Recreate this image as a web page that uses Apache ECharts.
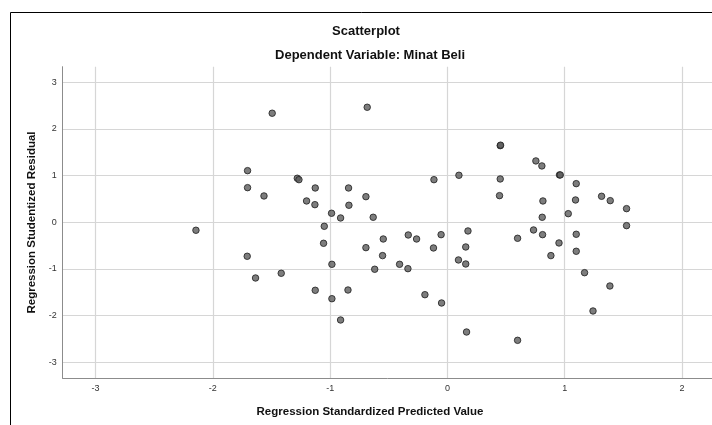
<!DOCTYPE html>
<html>
<head>
<meta charset="utf-8">
<script src="https://cdn.jsdelivr.net/npm/echarts@6/dist/echarts.min.js"></script>
<style>
  html, body { margin: 0; padding: 0; background: #fff; }
  #chart { width: 712px; height: 425px; }
</style>
</head>
<body>
<div id="chart"></div>
<script>
// standardized predicted value (x) and studentized residual (y)
const predicted = [
  -2.144, -1.704, -1.704, -1.564, -1.494, -1.707, -1.636, -1.417, -1.280, -1.266,
  -1.201, -1.130, -1.127, -1.127, -1.056, -1.050, -0.988, -0.985, -0.985, -0.911,
  -0.911, -0.848, -0.843, -0.840, -0.695, -0.695, -0.684, -0.633, -0.620, -0.553,
  -0.547, -0.408, -0.337, -0.334, -0.263, -0.192, -0.119, -0.115, -0.054, -0.050,
  0.098, 0.094, 0.156, 0.156, 0.163, 0.175, 0.444, 0.450, 0.450, 0.453,
  0.598, 0.598, 0.734, 0.754, 0.805, 0.808, 0.811, 0.814, 0.882, 0.951,
  0.955, 0.962, 1.030, 1.092, 1.098, 1.098, 1.098, 1.169, 1.241, 1.314,
  1.385, 1.388, 1.527, 1.527
]
const residual = [
  -0.171, 1.105, 0.741, 0.563, 2.334, -0.728, -1.193, -1.092, 0.942, 0.912,
  0.456, 0.377, 0.734, -1.456, -0.450, -0.086, 0.193, -0.900, -1.636, 0.092,
  -2.092, -1.450, 0.734, 0.364, 0.548, -0.543, 2.462, 0.107, -1.006, -0.714,
  -0.358, -0.900, -0.993, -0.272, -0.358, -1.550, -0.550, 0.912, -0.265, -1.728,
  1.006, -0.807, -0.529, -0.893, -2.349, -0.186, 0.570, 0.927, 1.640, 1.650,
  -0.343, -2.527, -0.165, 1.313, 1.206, 0.107, -0.265, 0.456, -0.714, -0.443,
  1.013, 1.013, 0.184, 0.477, 0.827, -0.257, -0.621, -1.079, -1.899, 0.556,
  -1.364, 0.463, 0.292, -0.072
]
const xTicks = [-3, -2, -1, 0, 1, 2]
const yTicks = [-3, -2, -1, 0, 1, 2, 3]

const points = predicted.map((x, i) => [x, residual[i]])

const chart = echarts.init(document.getElementById('chart'))

const option = {
  backgroundColor: '#fff',
  animation: false,
  textStyle: { fontFamily: 'Liberation Sans, Arial, sans-serif' },
  grid: {
    left: 62.7,
    top: 66.7,
    width: 668.6,
    height: 311.6,
    outerBoundsMode: 'none'
  },
  xAxis: {
    type: 'value',
    min: -3.28,
    max: 2.42,
    axisLine: { show: true, onZero: false, lineStyle: { color: '#8c8c8c', width: 1 } },
    axisTick: { show: false, customValues: xTicks },
    axisLabel: { customValues: xTicks, color: '#333', fontSize: 9, margin: 6 },
    splitLine: { show: true, lineStyle: { color: '#d6d6d6', width: 1.2 } }
  },
  yAxis: {
    type: 'value',
    min: -3.34,
    max: 3.33,
    axisLine: { show: true, onZero: false, lineStyle: { color: '#8c8c8c', width: 1 } },
    axisTick: { show: false, customValues: yTicks },
    axisLabel: { customValues: yTicks, color: '#333', fontSize: 9, margin: 6 },
    splitLine: { show: true, lineStyle: { color: '#d6d6d6', width: 1.2 } }
  },
  graphic: [
    {
      type: 'rect',
      shape: { x: 10.5, y: 12.5, width: 720, height: 440 },
      style: { fill: 'none', stroke: '#000', lineWidth: 1 },
      z: 10
    },
    {
      type: 'text', x: 366, y: 31,
      style: { text: 'Scatterplot', font: 'bold 13px "Liberation Sans"', fill: '#111', align: 'center', verticalAlign: 'middle' }
    },
    {
      type: 'text', x: 370, y: 55,
      style: { text: 'Dependent Variable: Minat Beli', font: 'bold 13px "Liberation Sans"', fill: '#111', align: 'center', verticalAlign: 'middle' }
    },
    {
      type: 'text', x: 370, y: 412,
      style: { text: 'Regression Standardized Predicted Value', font: 'bold 11.5px "Liberation Sans"', fill: '#111', align: 'center', verticalAlign: 'middle' }
    },
    {
      type: 'text', x: 32, y: 222.5, rotation: Math.PI / 2,
      style: { text: 'Regression Studentized Residual', font: 'bold 11.5px "Liberation Sans"', fill: '#111', align: 'center', verticalAlign: 'middle' }
    }
  ],
  series: [
    {
      type: 'scatter',
      data: points,
      symbolSize: 6.5,
      itemStyle: { color: '#5c5c5c', borderColor: '#1e1e1e', borderWidth: 1 }
    }
  ]
}

chart.setOption(option)
</script>
</body>
</html>
